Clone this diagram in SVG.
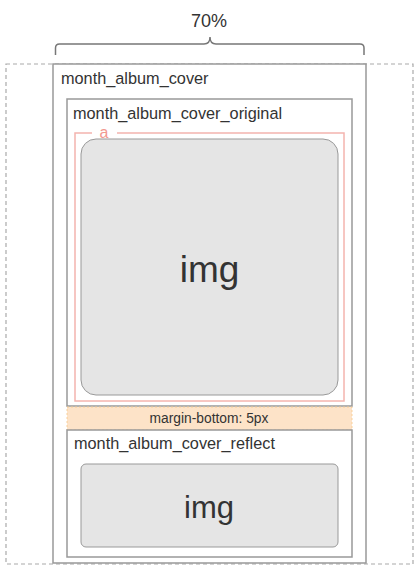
<svg xmlns="http://www.w3.org/2000/svg" width="420" height="571" viewBox="0 0 420 571">
<style>
text{font-family:"Liberation Sans",Arial,sans-serif;fill:#333}
.box{fill:#fff;stroke:#999;stroke-width:1.5}
.img{fill:#e5e5e5;stroke:#999;stroke-width:1}
.lbl{font-size:16.3px}
</style>
<rect width="420" height="571" fill="#fff"/>
<g id="outer"><rect x="6" y="64" width="407" height="500" fill="none" stroke="#aaa" stroke-width="1.2" stroke-dasharray="4,3"/></g>
<g id="brace">
<path d="M55.5,55 V48 Q55.5,44 59.5,44 H204 Q210,44 210,37 Q210,44 216,44 H360 Q364,44 364,48 V55" fill="none" stroke="#777" stroke-width="1.5"/>
<text x="209" y="27" font-size="18" text-anchor="middle">70%</text>
</g>
<g id="month_album_cover">
<rect class="box" x="53" y="64" width="313" height="499"/>
<text class="lbl" x="61" y="84">month_album_cover</text>
</g>
<g id="month_album_cover_original">
<rect class="box" x="67" y="99" width="285" height="307"/>
<text class="lbl" x="73" y="119">month_album_cover_original</text>
</g>
<g id="a">
<rect x="75" y="133" width="269" height="268" fill="none" stroke="#f4b4ae" stroke-width="1.5"/>
<rect x="92" y="128" width="25" height="10" fill="#fff"/>
<text x="104" y="138" font-size="16" text-anchor="middle" style="fill:#f29990">a</text>
</g>
<g id="img1">
<rect class="img" x="81" y="139" width="257" height="256" rx="15"/>
<text x="209.5" y="282" font-size="37" text-anchor="middle">img</text>
</g>
<g id="margin">
<rect x="67" y="407" width="285" height="23" fill="#fde3c8" stroke="#f7c98a" stroke-width="0.8" stroke-dasharray="2,2"/>
<text x="209" y="423" font-size="13.8" text-anchor="middle">margin-bottom: 5px</text>
</g>
<g id="month_album_cover_reflect">
<rect class="box" x="67" y="430" width="285" height="127"/>
<text class="lbl" x="74" y="449">month_album_cover_reflect</text>
</g>
<g id="img2">
<rect class="img" x="81" y="464" width="257" height="83" rx="5"/>
<text x="209" y="518" font-size="31" text-anchor="middle">img</text>
</g>
</svg>
